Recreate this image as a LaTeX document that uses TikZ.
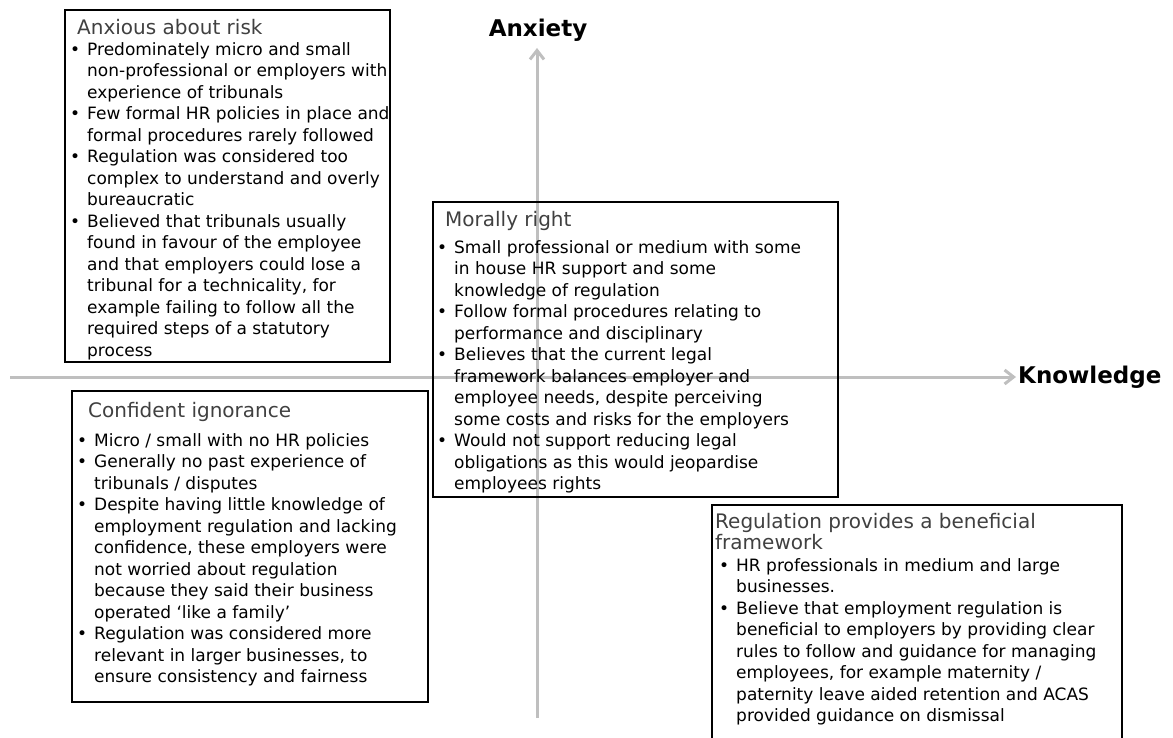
\documentclass[tikz,border=0pt]{standalone}
\usepackage{fontspec}
\setmainfont{DejaVu Sans}
\usepackage{tikz}
\usetikzlibrary{arrows.meta}

\definecolor{axisgray}{RGB}{191,191,191}
\definecolor{titlegray}{RGB}{64,64,64}

\newcommand{\bpt}{\makebox[17pt][l]{\textbullet}}
\newcommand{\bcont}{\makebox[17pt]{}}

\begin{document}
\begin{tikzpicture}[
    x=1pt, y=-1pt,
    quad/.style={rectangle, draw, line width=1.8pt},
    heading/.style={anchor=north west, inner sep=0pt, align=left, text=titlegray, font=\fontsize{20}{21.5}\selectfont},
    bullets/.style={anchor=north west, inner sep=0pt, align=left, font=\fontsize{17}{21.5}\selectfont},
    axis/.style={-{Straight Barb[length=9pt, width=14pt]}, line width=3pt, draw=axisgray},
    axislabel/.style={font=\fontsize{23}{26}\selectfont\bfseries, inner sep=2pt}
]
\useasboundingbox (0,0) rectangle (1173,738);

% Axes
\coordinate (vbot) at (537,718);
\coordinate (vtop) at (537,48);
\coordinate (hleft) at (10,377);
\node[axislabel] (anxiety) at (538,30) {Anxiety};
\node[axislabel, anchor=west] (knowledge) at (1016,377) {Knowledge};
\draw[axis] (vbot) -- (vtop);
\draw[axis] (hleft) -- (knowledge.west);

% Boxes
\node[quad, minimum width=325pt, minimum height=352pt] (risk) at (227.5,186) {};
\node[quad, minimum width=405pt, minimum height=295pt] (moral) at (635.5,349.5) {};
\node[quad, minimum width=356pt, minimum height=311pt] (ignorance) at (250,546.5) {};
\node[quad, minimum width=410pt, minimum height=265pt] (beneficial) at (917,637.5) {};

% Top left - Anxious about risk
\node[heading] (risktitle) at (77,19) {Anxious about risk};
\node[bullets] (risktext) at (70,42) {%
\bpt Predominately micro and small\\
\bcont non-professional or employers with\\
\bcont experience of tribunals\\
\bpt Few formal HR policies in place and\\
\bcont formal procedures rarely followed\\
\bpt Regulation was considered too\\
\bcont complex to understand and overly\\
\bcont bureaucratic\\
\bpt Believed that tribunals usually\\
\bcont found in favour of the employee\\
\bcont and that employers could lose a\\
\bcont tribunal for a technicality, for\\
\bcont example failing to follow all the\\
\bcont required steps of a statutory\\
\bcont process};

% Middle - Morally right
\node[heading] (moraltitle) at (445,211) {Morally right};
\node[bullets] (moraltext) at (437,240) {%
\bpt Small professional or medium with some\\
\bcont in house HR support and some\\
\bcont knowledge of regulation\\
\bpt Follow formal procedures relating to\\
\bcont performance and disciplinary\\
\bpt Believes that the current legal\\
\bcont framework balances employer and\\
\bcont employee needs, despite perceiving\\
\bcont some costs and risks for the employers\\
\bpt Would not support reducing legal\\
\bcont obligations as this would jeopardise\\
\bcont employees rights};

% Bottom left - Confident ignorance
\node[heading] (ignorancetitle) at (88,402) {Confident ignorance};
\node[bullets] (ignorancetext) at (77,433) {%
\bpt Micro / small with no HR policies\\
\bpt Generally no past experience of\\
\bcont tribunals / disputes\\
\bpt Despite having little knowledge of\\
\bcont employment regulation and lacking\\
\bcont confidence, these employers were\\
\bcont not worried about regulation\\
\bcont because they said their business\\
\bcont operated ‘like a family’\\
\bpt Regulation was considered more\\
\bcont relevant in larger businesses, to\\
\bcont ensure consistency and fairness};

% Bottom right - Regulation provides a beneficial framework
\node[heading] (beneficialtitle) at (715,513) {Regulation provides a beneficial\\framework};
\node[bullets] (beneficialtext) at (719,558) {%
\bpt HR professionals in medium and large\\
\bcont businesses.\\
\bpt Believe that employment regulation is\\
\bcont beneficial to employers by providing clear\\
\bcont rules to follow and guidance for managing\\
\bcont employees, for example maternity /\\
\bcont paternity leave aided retention and ACAS\\
\bcont provided guidance on dismissal};

\end{tikzpicture}
\end{document}
